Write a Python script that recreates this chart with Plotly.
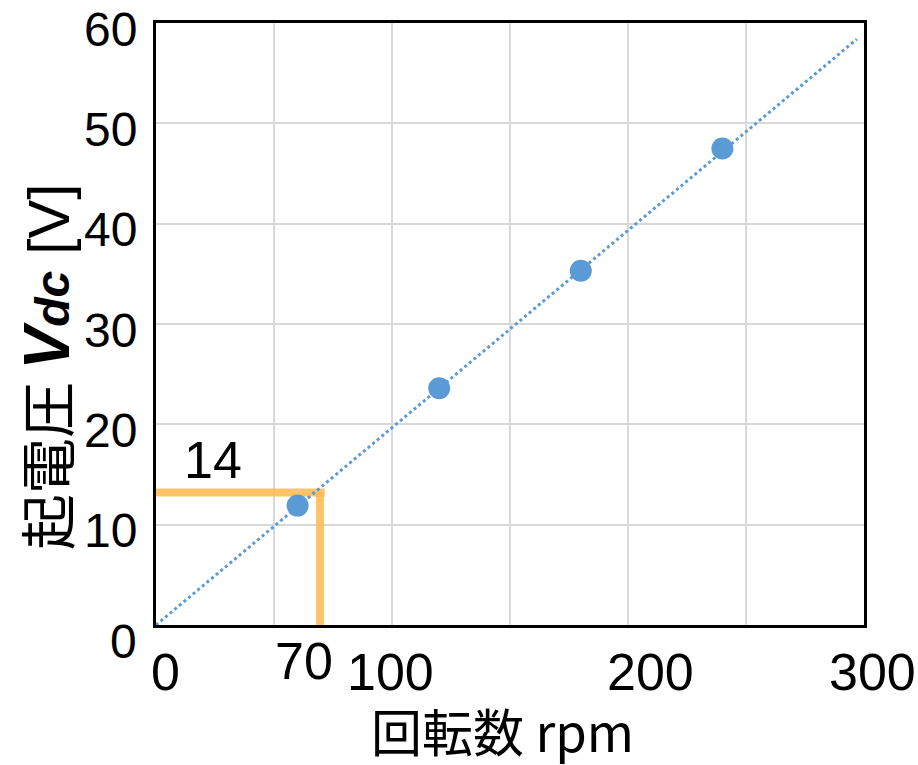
import plotly.graph_objects as go

# Data
rpm = [60, 120, 180, 240]
vdc = [11.9, 23.6, 35.3, 47.5]
fit_rpm = [0, 297]
fit_vdc = [0, 58.4]
marker_rpm = 69.5
marker_v = 13.2
marker_label = "14"
marker_rpm_label = "70"
y_ticks = [0, 10, 20, 30, 40, 50, 60]
x_ticks = [0, 100, 200, 300]

FONT = "Liberation Sans, Arial, sans-serif"
NARROW = "Liberation Sans Narrow, Arial Narrow, Liberation Sans, sans-serif"
CJK = "Noto Sans CJK JP, sans-serif"
ORANGE = "rgba(255,185,80,0.85)"
BLUE = "#5B9BD5"

fig = go.Figure()

# Orange guide lines
fig.add_trace(go.Scatter(x=[marker_rpm, marker_rpm], y=[0, marker_v], mode="lines",
                         line=dict(color=ORANGE, width=8), hoverinfo="skip", showlegend=False))
fig.add_trace(go.Scatter(x=[0, marker_rpm + 2], y=[marker_v, marker_v], mode="lines",
                         line=dict(color=ORANGE, width=8), hoverinfo="skip", showlegend=False))
# Fit line
fig.add_trace(go.Scatter(x=fit_rpm, y=fit_vdc, mode="lines",
                         line=dict(color=BLUE, width=3, dash="3px,3px"), showlegend=False))
# Points
fig.add_trace(go.Scatter(x=rpm, y=vdc, mode="markers",
                         marker=dict(color=BLUE, size=22), showlegend=False))

annotations = []
# y tick labels
for v in y_ticks:
    annotations.append(dict(xref="paper", yref="y", x=0, y=v, xanchor="right", yanchor="middle",
                            xshift=-17, yshift=-6 if v else -16, text=str(v), showarrow=False,
                            font=dict(family=FONT, size=48, color="black")))
# x tick labels
x_shift = {0: 9, 100: -2, 200: 22, 300: 8}
for v in x_ticks:
    annotations.append(dict(xref="x", yref="paper", x=v, y=0, xanchor="center", yanchor="middle",
                            xshift=x_shift[v], yshift=-47, text=str(v), showarrow=False,
                            font=dict(family=FONT, size=52, color="black")))
annotations.append(dict(xref="x", yref="paper", x=marker_rpm, y=0, xanchor="center", yanchor="middle",
                        xshift=-16, yshift=-36, text=marker_rpm_label, showarrow=False,
                        font=dict(family=NARROW, size=52, color="black")))
annotations.append(dict(xref="x", yref="y", x=0, y=marker_v, xanchor="left", yanchor="bottom",
                        xshift=26, yshift=2, text=marker_label, showarrow=False,
                        font=dict(family=NARROW, size=52, color="black")))
# axis titles
annotations.append(dict(xref="paper", yref="paper", x=0.489, y=0, xanchor="center", yanchor="middle",
                        yshift=-105, showarrow=False, text="回転数 rpm",
                        font=dict(family=CJK, size=51, color="black")))
ytitle = ("起電圧&nbsp;"
          "<span style='font-family:Liberation Sans, Arial;font-size:64px'><b><i>V</i></b></span>"
          "<span style='font-family:Liberation Sans, Arial;font-size:48px'><b><i>dc</i></b></span>"
          "<span style='font-family:Liberation Sans, Arial;font-size:58px'>&nbsp;[V]</span>")
annotations.append(dict(xref="paper", yref="paper", x=0, y=0.5, xanchor="center", yanchor="middle",
                        xshift=-112, yshift=-43, textangle=-90, showarrow=False,
                        text=ytitle,
                        font=dict(family=CJK, size=56, color="black")))

fig.update_layout(
    width=918, height=765,
    margin=dict(l=156, r=54, t=23, b=140),
    paper_bgcolor="white", plot_bgcolor="white",
    annotations=annotations,
    xaxis=dict(range=[0, 300], dtick=50, tick0=0, showticklabels=False, ticks="",
               showgrid=True, gridcolor="#d9d9d9", gridwidth=2, zeroline=False,
               showline=True, linecolor="black", linewidth=3, mirror=True),
    yaxis=dict(range=[0, 60], dtick=10, tick0=0, showticklabels=False, ticks="",
               showgrid=True, gridcolor="#d9d9d9", gridwidth=2, zeroline=False,
               showline=True, linecolor="black", linewidth=3, mirror=True),
)

fig.write_html("out.html", config={"displayModeBar": False},
               post_script="document.body.style.margin='0';document.body.style.overflow='hidden';")
